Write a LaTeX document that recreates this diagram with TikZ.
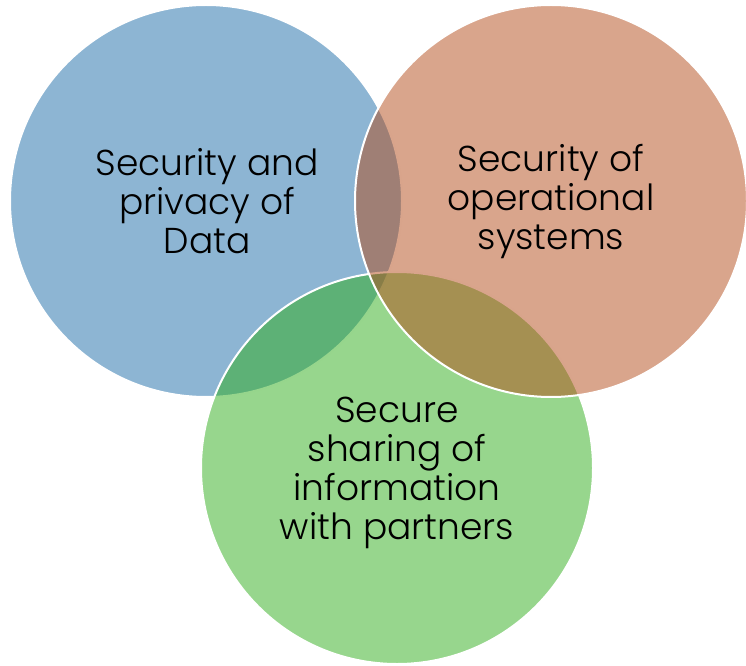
\documentclass[tikz,border=0pt]{standalone}
\usepackage{fontspec}
\setmainfont{Poppins Light}
\definecolor{vblue}{RGB}{27,107,167}
\definecolor{vgreen}{RGB}{47,173,27}
\definecolor{vorange}{RGB}{179,75,25}
\tikzset{
  vcircle/.style={circle, minimum size=392pt, inner sep=0pt, fill opacity=0.5, draw=white, line width=2pt},
  vlabel/.style={align=center, font=\fontsize{36}{39}\selectfont, text=black}
}
\begin{document}
\begin{tikzpicture}[x=1pt,y=1pt]
\useasboundingbox (0,0) rectangle (746,665);
\node[vcircle, fill=vblue] (blue) at (206,464) {};
\node[vcircle, fill=vgreen] (green) at (397,197) {};
\node[vcircle, fill=vorange] (orange) at (551,464) {};
\node[vlabel] (tblue) at (207,464) {Security and\\privacy of\\Data};
\node[vlabel] (torange) at (551,463) {Security of\\operational\\systems};
\node[vlabel] (tgreen) at (397,192) {Secure\\sharing of\\information\\with partners};
\end{tikzpicture}
\end{document}
